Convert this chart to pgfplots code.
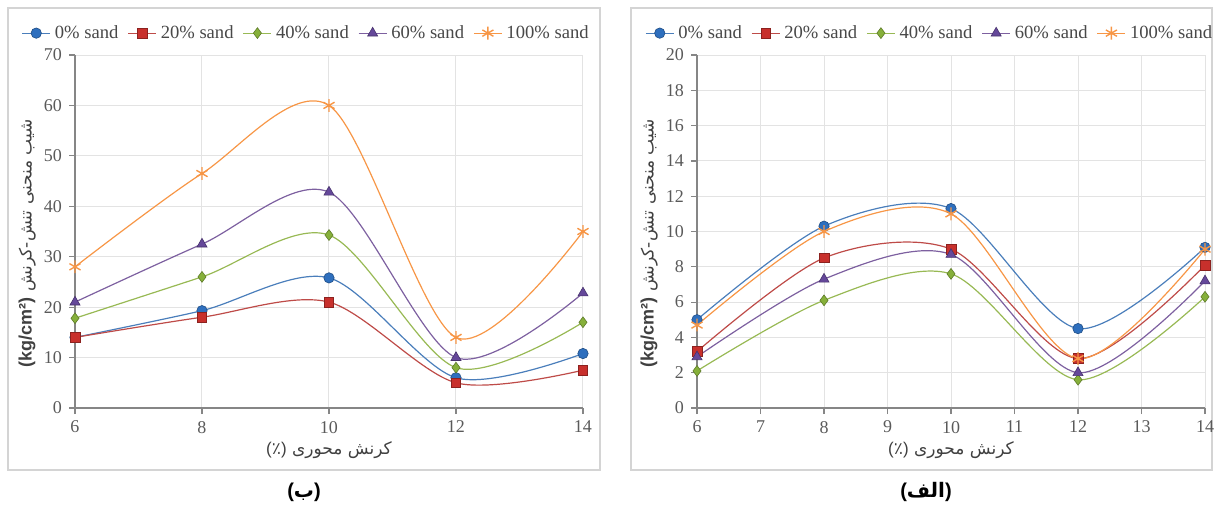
\documentclass[border=0pt]{standalone}
\usepackage{pgfplots}
\pgfplotsset{compat=1.18}
\usepackage{fontspec}
\setmainfont{Liberation Serif}
\newfontfamily\arabicfont[Script=Arabic]{DejaVu Sans}
\newfontfamily\latsans{Liberation Sans}
\TeXXeTstate=1

\definecolor{lblue}{HTML}{4A7EBB}
\definecolor{mblue}{HTML}{2E6FBE}
\definecolor{lred}{HTML}{BE4B48}
\definecolor{mred}{HTML}{C8302C}
\definecolor{lgreen}{HTML}{98B954}
\definecolor{mgreen}{HTML}{86B03A}
\definecolor{lpurple}{HTML}{7D60A0}
\definecolor{mpurple}{HTML}{65489A}
\definecolor{lorange}{HTML}{F79646}
\definecolor{axisgray}{HTML}{868686}
\definecolor{gridgray}{HTML}{E3E3E3}
\definecolor{tickgray}{HTML}{5A5A5A}
\definecolor{framegray}{HTML}{D4D4D4}

\pgfplotstableread{
x  s0   s20  s40  s60  s100
6  14.0 14.0 17.8 21.0 28.0
8  19.3 18.0 26.0 32.5 46.5
10 25.8 21.0 34.3 42.8 60.0
12 6.0  5.0  8.0  10.0 14.0
14 10.8 7.5  17.0 22.8 35.0
}\tableB

\pgfplotstableread{
x  s0   s20  s40  s60  s100
6  5.0  3.2  2.1  2.9  4.7
8  10.3 8.5  6.1  7.3  10.0
10 11.3 9.0  7.6  8.7  11.0
12 4.5  2.8  1.6  2.0  2.8
14 9.1  8.1  6.3  7.2  9.0
}\tableA

\pgfplotsset{
  panel/.style={
    width=254pt, height=176.5pt, scale only axis,
    axis lines=left,
    axis line style={-, draw=axisgray, line width=0.7pt},
    tick align=outside, major tick length=3pt,
    tick style={draw=axisgray, line width=0.6pt},
    grid=major, grid style={draw=gridgray, line width=0.5pt},
    ticklabel style={font=\fontsize{9}{10}\selectfont, text=tickgray},
    /pgf/number format/assume math mode=true,
    xmin=6, xmax=14, ymin=0,
    legend columns=5,
    legend cell align=left,
    legend style={draw=none, fill=none, font=\fontsize{9.3}{10}\selectfont, text=tickgray!80!black,
      anchor=center, inner sep=0pt, nodes={inner sep=1pt},
      /tikz/every even column/.append style={column sep=3.6pt},
      /tikz/every odd column/.append style={column sep=1pt}},
    legend image code/.code={\draw[mark repeat=2,mark phase=2] plot coordinates {(0pt,0pt)(7pt,0pt)(14pt,0pt)};},
    xlabel={\fontsize{8.5}{10}\selectfont\arabicfont\beginR کرنش محوری \beginL{\latsans(}٪{\latsans)}\endL\endR},
    xlabel style={at={(axis description cs:0.5,-0.119)}, anchor=center, text=black!75},
    ylabel={\fontsize{8.5}{10}\selectfont\arabicfont\beginR شیب منحنی تنش-کرنش \beginL{\latsans\bfseries\fontsize{9}{10}\selectfont (kg/cm²)}\endL\endR},
    ylabel style={at={(axis description cs:-0.094,0.467)}, anchor=center, text=black!75},
  },
  p0/.style={smooth, color=lblue, line width=0.6pt, mark=*, mark size=2.6pt, mark options={solid, fill=mblue, draw=mblue!70!black, line width=0.3pt}},
  p20/.style={smooth, color=lred, line width=0.6pt, mark=square*, mark size=2.4pt, mark options={solid, fill=mred, draw=mred!70!black, line width=0.3pt}},
  p40/.style={smooth, color=lgreen, line width=0.6pt, mark=diamond*, mark size=2.7pt, mark options={solid, fill=mgreen, draw=mgreen!70!black, line width=0.3pt}},
  p60/.style={smooth, color=lpurple, line width=0.6pt, mark=triangle*, mark size=2.9pt, mark options={solid, fill=mpurple, draw=mpurple!70!black, line width=0.3pt}},
  p100/.style={smooth, color=lorange, line width=0.6pt, mark=asterisk, mark size=3.2pt, mark options={solid, draw=lorange, line width=0.7pt}},
}

\begin{document}
\begin{tikzpicture}
\path[use as bounding box] (0pt,0pt) rectangle (612pt,252pt);
\draw[framegray, line width=0.7pt] (4pt,17pt) rectangle (300pt,248pt);
\draw[framegray, line width=0.7pt] (315.5pt,17pt) rectangle (606pt,248pt);

\begin{axis}[panel, at={(37.5pt,48pt)}, anchor=origin,
  ymax=70, ytick distance=10, xtick distance=2,
  legend style={at={(0.455,1.062)}}]
\addplot[p0] table[x=x,y=s0] {\tableB};
\addplot[p20] table[x=x,y=s20] {\tableB};
\addplot[p40] table[x=x,y=s40] {\tableB};
\addplot[p60] table[x=x,y=s60] {\tableB};
\addplot[p100] table[x=x,y=s100] {\tableB};
\legend{0\% sand, 20\% sand, 40\% sand, 60\% sand, 100\% sand}
\end{axis}

\begin{axis}[panel, at={(348.5pt,48pt)}, anchor=origin,
  ymax=20, ytick distance=2, xtick distance=1,
  legend style={at={(0.458,1.062)}}]
\addplot[p0] table[x=x,y=s0] {\tableA};
\addplot[p20] table[x=x,y=s20] {\tableA};
\addplot[p40] table[x=x,y=s40] {\tableA};
\addplot[p60] table[x=x,y=s60] {\tableA};
\addplot[p100] table[x=x,y=s100] {\tableA};
\legend{0\% sand, 20\% sand, 40\% sand, 60\% sand, 100\% sand}
\end{axis}

\node[inner sep=0pt] at (152pt,6pt) {{\latsans\bfseries\fontsize{10}{12}\selectfont (}{\arabicfont\bfseries\fontsize{10}{12}\selectfont\beginR ب\endR}{\latsans\bfseries\fontsize{10}{12}\selectfont )}};
\node[inner sep=0pt] at (463pt,6pt) {{\latsans\bfseries\fontsize{10}{12}\selectfont (}{\arabicfont\bfseries\fontsize{10}{12}\selectfont\beginR الف\endR}{\latsans\bfseries\fontsize{10}{12}\selectfont )}};
\end{tikzpicture}
\end{document}
